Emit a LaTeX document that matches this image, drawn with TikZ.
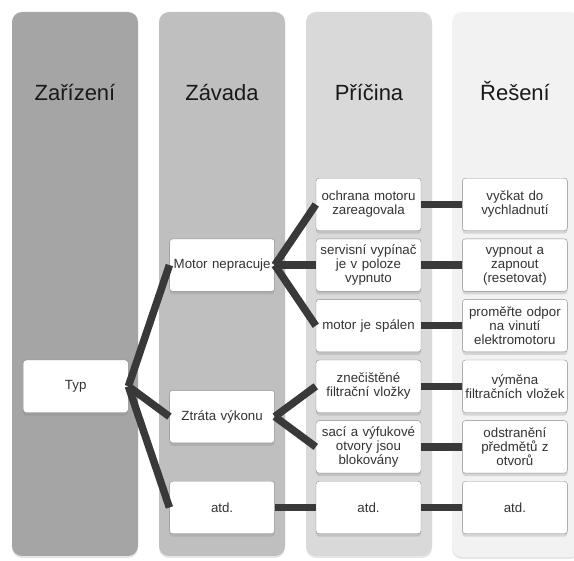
\documentclass[tikz,border=0pt]{standalone}
\usepackage{fontspec}
\setmainfont{Liberation Sans}
\usepackage{xcolor}
\definecolor{lanea}{HTML}{A5A5A5}
\definecolor{laneb}{HTML}{BFBFBF}
\definecolor{lanec}{HTML}{D9D9D9}
\definecolor{laned}{HTML}{F2F2F2}
\definecolor{linkgray}{HTML}{393939}
\definecolor{boxline}{HTML}{8C8C8C}
\definecolor{boxtext}{HTML}{333333}
\usetikzlibrary{
    positioning,
    calc,
    shadows
}
\tikzstyle{lane} = [
    rounded corners=10pt,
    drop shadow={shadow xshift=0pt, shadow yshift=-2pt, opacity=0.2}
]
\tikzstyle{head} = [
    font=\fontsize{22}{26}\selectfont,
    text=black!90
]
\tikzstyle{box} = [
    rectangle, draw=boxline,
    rounded corners=3pt,
    minimum width=105pt,
    minimum height=52.5pt,
    text width=101pt,
    inner sep=2pt,
    align=center,
    text=boxtext,
    fill=white,
    font=\fontsize{13.3}{14}\selectfont,
    drop shadow={shadow xshift=0pt, shadow yshift=-3pt, opacity=0.25}
]
\tikzstyle{link} = [
    line width=7.5pt,
    draw=linkgray
]

\begin{document}
\begin{tikzpicture}[
    x=1pt, y=-1pt,
    node distance=7.7pt and 41pt
]
\useasboundingbox (0,0) rectangle (574,561);

% Sloupce
\fill [lane, lanea] (12,12) rectangle (138,556);
\fill [lane, laneb] (159,12) rectangle (285,556);
\fill [lane, lanec] (306,12) rectangle (432,556);
\fill [lane, laned] (452,12) rectangle (580,557);

\node (head1) [head, anchor=base] at (75,101) {Zařízení};
\node (head2) [head, anchor=base] at (222,101) {Závada};
\node (head3) [head, anchor=base] at (369,101) {Příčina};
\node (head4) [head, anchor=base] at (515,101) {Řešení};

% Příčiny
\node (cause1) [box] at (368.5,204.5) {ochrana motoru\\zareagovala};
\node (cause2) [box, below=of cause1] {servisní vypínač\\je v poloze\\vypnuto};
\node (cause3) [box, below=of cause2] {motor je spálen};
\node (cause4) [box, below=of cause3] {znečištěné\\filtrační vložky};
\node (cause5) [box, below=of cause4] {sací a výfukové\\otvory jsou\\blokovány};
\node (cause6) [box, below=of cause5] {atd.};

% Řešení
\node (fix1) [box, right=of cause1] {vyčkat do\\vychladnutí};
\node (fix2) [box, right=of cause2] {vypnout a\\zapnout\\(resetovat)};
\node (fix3) [box, right=of cause3] {proměřte odpor\\na vinutí\\elektromotoru};
\node (fix4) [box, right=of cause4] {výměna\\filtračních vložek};
\node (fix5) [box, right=of cause5] {odstranění\\předmětů z\\otvorů};
\node (fix6) [box, right=of cause6] {atd.};

% Závady
\node (fault1) [box, left=of cause2] {Motor nepracuje};
\node (fault2) [box, left=of {$(cause4.west)!0.5!(cause5.west)$}] {Ztráta výkonu};
\node (fault3) [box, left=of cause6] {atd.};

\node (typ) [box, left=of fault2.west |- cause4.west] {Typ};

\draw [link] (typ.east) -- (fault1.west);
\draw [link] (typ.east) -- (fault2.west);
\draw [link] (typ.east) -- (fault3.west);

\draw [link] (fault1.east) -- (cause1.west);
\draw [link] (fault1.east) -- (cause2.west);
\draw [link] (fault1.east) -- (cause3.west);
\draw [link] (fault2.east) -- (cause4.west);
\draw [link] (fault2.east) -- (cause5.west);
\draw [link] (fault3.east) -- (cause6.west);

\foreach \i in {1,...,6}
    \draw [link] (cause\i.east) -- (fix\i.west);

\end{tikzpicture}
\end{document}
